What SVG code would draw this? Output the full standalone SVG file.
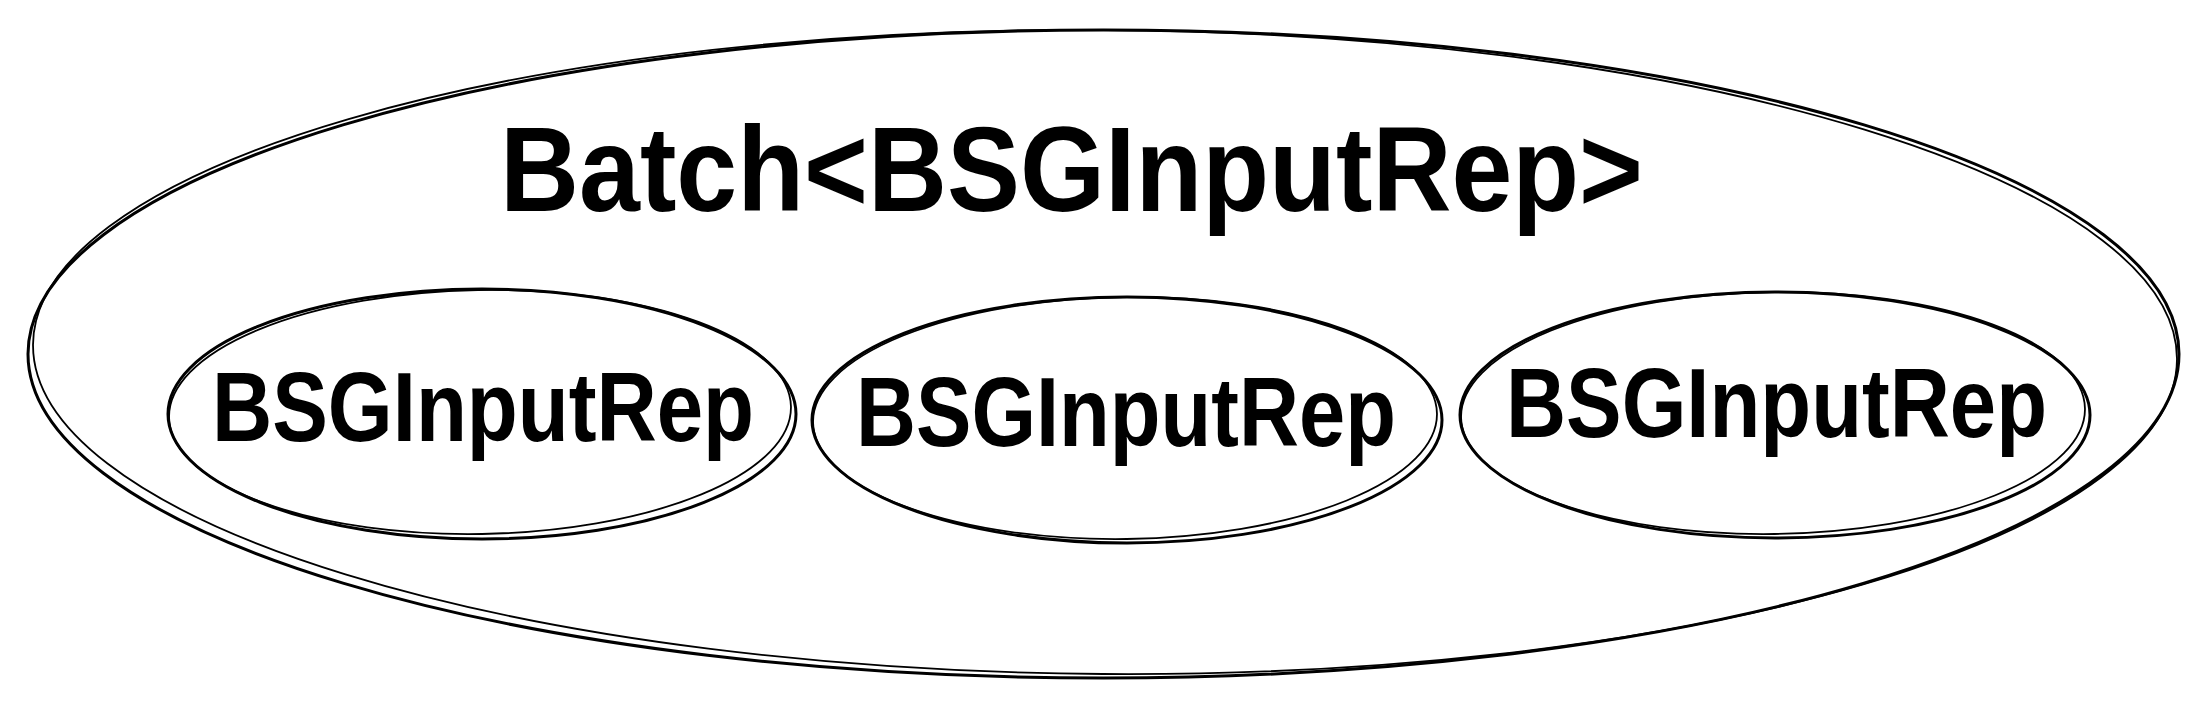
<svg xmlns="http://www.w3.org/2000/svg" width="2211" height="706" viewBox="0 0 2211 706">
<style>
.sk{fill:none;stroke:#000;stroke-width:3;stroke-linecap:round}
.sk2{fill:none;stroke:#000;stroke-width:1.8;stroke-linecap:round}
.t{font-family:"Liberation Sans",Arial,sans-serif;font-weight:bold;fill:#000}
</style>
<rect width="2211" height="706" fill="#fff"/>
<g id="batch">
<ellipse class="sk" cx="1103.5" cy="354" rx="1075.5" ry="324"/>
<ellipse class="sk2" cx="1105" cy="352" rx="1072" ry="322" transform="rotate(0.4 1105 352)"/>
<text class="t" x="500" y="211" font-size="121" textLength="1143" lengthAdjust="spacingAndGlyphs">Batch&lt;BSGInputRep&gt;</text>
</g>
<g id="rep1">
<ellipse class="sk" cx="482" cy="414" rx="314" ry="125"/>
<ellipse class="sk2" cx="480" cy="412" rx="311" ry="122" transform="rotate(-1 480 412)"/>
<text class="t" x="212" y="441" font-size="99" textLength="542" lengthAdjust="spacingAndGlyphs">BSGInputRep</text>
</g>
<g id="rep2">
<ellipse class="sk" cx="1127" cy="420" rx="315" ry="123"/>
<ellipse class="sk2" cx="1125" cy="418" rx="312" ry="121" transform="rotate(-0.8 1125 418)"/>
<text class="t" x="856" y="446" font-size="99" textLength="540" lengthAdjust="spacingAndGlyphs">BSGInputRep</text>
</g>
<g id="rep3">
<ellipse class="sk" cx="1775" cy="415" rx="315" ry="123"/>
<ellipse class="sk2" cx="1773" cy="413" rx="312" ry="121" transform="rotate(-0.8 1773 413)"/>
<text class="t" x="1506" y="437" font-size="99" textLength="541" lengthAdjust="spacingAndGlyphs">BSGInputRep</text>
</g>
<g id="connectors"/>
</svg>
